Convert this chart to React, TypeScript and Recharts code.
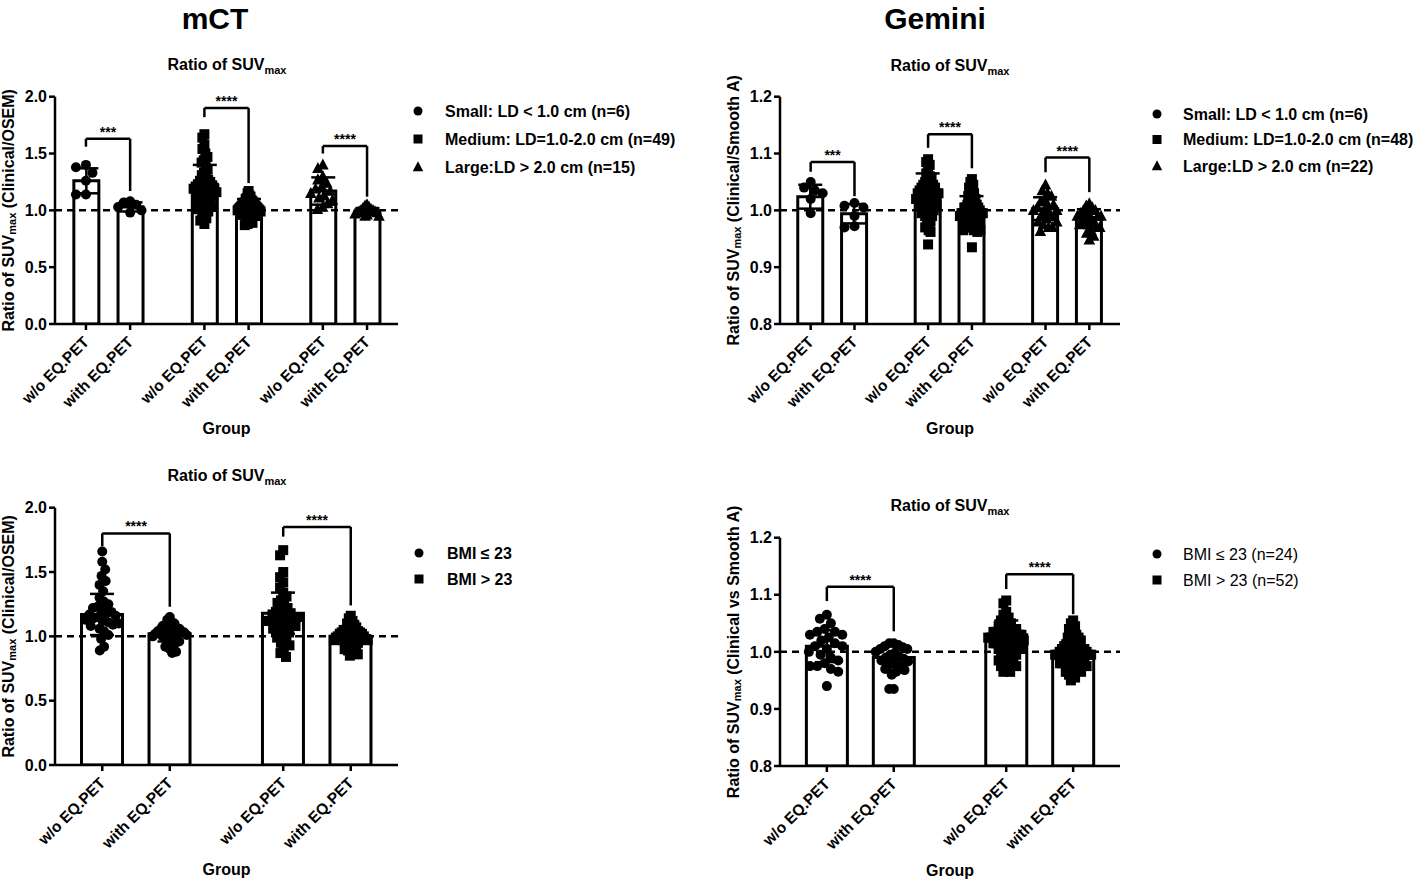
import React from 'react';
import { ComposedChart, Bar, Scatter, XAxis, YAxis, ReferenceLine, ErrorBar } from 'recharts';

const FONT = '"Liberation Sans", Arial, Helvetica, sans-serif';

// ---------------- shared text ----------------
const conditionLabels = ['w/o EQ.PET', 'with EQ.PET'];
const panelTitles = ['mCT', 'Gemini'];
const subtitleMain = 'Ratio of SUV';
const subtitleSub = 'max';
const xAxisTitle = 'Group';

// ---------------- mCT, lesion size (top left) ----------------
const mctSizeLegend = ['Small: LD < 1.0 cm (n=6)', 'Medium: LD=1.0-2.0 cm (n=49)', 'Large:LD > 2.0 cm (n=15)'];
const mctSizeMeans = [1.26, 1.03, 1.23, 1.03, 1.17, 0.99];
const mctSizeSD = [0.11, 0.04, 0.17, 0.07, 0.12, 0.03];
const mctSizeStars = ['***', '****', '****'];
const mctSizeBracketTop = [1.63, 1.9, 1.566];
const mctSizeBracketLeft = [1.56, 1.82, 1.5];
const mctSizeBracketRight = [1.17, 1.24, 1.12];
const mctSmallWo = [1.4, 1.38, 1.33, 1.26, 1.14, 1.14];
const mctSmallWith = [1.08, 1.07, 1.05, 1.03, 1.0, 0.98];
const mctMediumWo = [
  1.67, 1.64, 1.58, 1.54, 1.5, 1.47, 1.44, 1.42, 1.39, 1.36,
  1.33, 1.31, 1.29, 1.27, 1.26, 1.25, 1.24, 1.23, 1.22, 1.22,
  1.21, 1.2, 1.19, 1.19, 1.18, 1.17, 1.16, 1.16, 1.15, 1.14,
  1.13, 1.12, 1.11, 1.1, 1.09, 1.08, 1.07, 1.06, 1.05, 1.04,
  1.03, 1.02, 1.01, 0.99, 0.97, 0.95, 0.93, 0.91, 0.88,
];
const mctMediumWith = [
  1.17, 1.15, 1.13, 1.12, 1.11, 1.1, 1.09, 1.08, 1.08, 1.07,
  1.07, 1.06, 1.06, 1.05, 1.05, 1.04, 1.04, 1.04, 1.03, 1.03,
  1.03, 1.02, 1.02, 1.02, 1.01, 1.01, 1.01, 1.0, 1.0, 1.0,
  0.99, 0.99, 0.99, 0.98, 0.98, 0.97, 0.97, 0.96, 0.96, 0.95,
  0.95, 0.94, 0.93, 0.92, 0.91, 0.9, 0.89, 0.88, 0.87,
];
const mctLargeWo = [1.4, 1.37, 1.3, 1.27, 1.24, 1.21, 1.19, 1.17, 1.15, 1.13, 1.11, 1.09, 1.06, 1.03, 1.01];
const mctLargeWith = [1.05, 1.04, 1.03, 1.02, 1.01, 1.0, 1.0, 0.99, 0.99, 0.98, 0.98, 0.97, 0.96, 0.95, 0.95];

// ---------------- Gemini, lesion size (top right) ----------------
const gemSizeLegend = ['Small: LD < 1.0 cm (n=6)', 'Medium: LD=1.0-2.0 cm (n=48)', 'Large:LD > 2.0 cm (n=22)'];
const gemSizeMeans = [1.024, 0.994, 1.035, 1.0, 1.003, 0.987];
const gemSizeSD = [0.021, 0.017, 0.03, 0.025, 0.02, 0.015];
const gemSizeStars = ['***', '****', '****'];
const gemSizeBracketTop = [1.085, 1.134, 1.093];
const gemSizeBracketLeft = [1.068, 1.11, 1.067];
const gemSizeBracketRight = [1.025, 1.074, 1.032];
const gemSmallWo = [1.05, 1.04, 1.035, 1.03, 1.02, 0.995];
const gemSmallWith = [1.013, 1.008, 1.005, 0.99, 0.972, 0.97];
const gemMediumWo = [
  1.09, 1.085, 1.08, 1.07, 1.065, 1.06, 1.055, 1.05, 1.05, 1.045,
  1.045, 1.04, 1.04, 1.04, 1.035, 1.035, 1.035, 1.03, 1.03, 1.03,
  1.03, 1.025, 1.025, 1.025, 1.02, 1.02, 1.02, 1.02, 1.015, 1.015,
  1.01, 1.01, 1.01, 1.005, 1.005, 1.0, 1.0, 0.995, 0.995, 0.99,
  0.99, 0.985, 0.98, 0.975, 0.97, 0.965, 0.962, 0.94,
];
const gemMediumWith = [
  1.055, 1.05, 1.045, 1.04, 1.035, 1.03, 1.03, 1.025, 1.02, 1.02,
  1.015, 1.015, 1.01, 1.01, 1.01, 1.005, 1.005, 1.005, 1.0, 1.0,
  1.0, 1.0, 1.0, 0.995, 0.995, 0.995, 0.995, 0.99, 0.99, 0.99,
  0.99, 0.985, 0.985, 0.985, 0.98, 0.98, 0.98, 0.975, 0.975, 0.975,
  0.97, 0.97, 0.97, 0.965, 0.965, 0.965, 0.962, 0.935,
];
const gemLargeWo = [
  1.045, 1.035, 1.03, 1.025, 1.02, 1.015, 1.01, 1.01, 1.005, 1.0, 1.0,
  1.0, 0.995, 0.99, 0.99, 0.985, 0.98, 0.98, 0.975, 0.97, 0.97, 0.963,
];
const gemLargeWith = [
  1.012, 1.008, 1.005, 1.0, 1.0, 0.995, 0.995, 0.99, 0.99, 0.99, 0.985,
  0.985, 0.98, 0.98, 0.975, 0.975, 0.97, 0.97, 0.965, 0.96, 0.955, 0.948,
];

// ---------------- mCT, BMI (bottom left) ----------------
const mctBmiLegend = ['BMI \u2264 23', 'BMI > 23'];
const mctBmiMeans = [1.17, 1.02, 1.18, 1.0];
const mctBmiSD = [0.16, 0.06, 0.16, 0.06];
const mctBmiStars = ['****', '****'];
const mctBmiBracketTop = [1.8, 1.85];
const mctBmiBracketLeft = [1.7, 1.775];
const mctBmiBracketRight = [1.23, 1.24];
const mctBmiLowWo = [
  1.66, 1.58, 1.52, 1.47, 1.43, 1.4, 1.35, 1.3, 1.27, 1.25,
  1.23, 1.22, 1.2, 1.19, 1.18, 1.17, 1.16, 1.15, 1.14, 1.13,
  1.12, 1.11, 1.1, 1.09, 1.08, 1.06, 1.04, 1.01, 0.98, 0.92, 0.89,
];
const mctBmiLowWith = [
  1.15, 1.13, 1.11, 1.1, 1.09, 1.08, 1.07, 1.06, 1.06, 1.05,
  1.05, 1.04, 1.04, 1.03, 1.03, 1.02, 1.02, 1.01, 1.01, 1.0,
  1.0, 0.99, 0.98, 0.97, 0.96, 0.95, 0.94, 0.92, 0.9, 0.88, 0.87,
];
const mctBmiHighWo = [
  1.67, 1.63, 1.5, 1.46, 1.42, 1.38, 1.34, 1.31, 1.28, 1.26,
  1.24, 1.22, 1.2, 1.19, 1.18, 1.17, 1.16, 1.15, 1.15, 1.14,
  1.13, 1.12, 1.12, 1.11, 1.1, 1.09, 1.08, 1.07, 1.06, 1.05,
  1.03, 1.01, 0.99, 0.97, 0.95, 0.93, 0.9, 0.87, 0.84,
];
const mctBmiHighWith = [
  1.16, 1.14, 1.12, 1.1, 1.09, 1.08, 1.07, 1.06, 1.05, 1.05,
  1.04, 1.04, 1.03, 1.03, 1.02, 1.02, 1.01, 1.01, 1.0, 1.0,
  1.0, 0.99, 0.99, 0.98, 0.98, 0.97, 0.97, 0.96, 0.96, 0.95,
  0.94, 0.93, 0.92, 0.91, 0.9, 0.89, 0.88, 0.86, 0.85,
];

// ---------------- Gemini, BMI (bottom right) ----------------
const gemBmiLegend = ['BMI \u2264 23 (n=24)', 'BMI > 23 (n=52)'];
const gemBmiMeans = [1.01, 0.99, 1.03, 1.0];
const gemBmiSD = [0.028, 0.022, 0.025, 0.02];
const gemBmiStars = ['****', '****'];
const gemBmiBracketTop = [1.114, 1.136];
const gemBmiBracketLeft = [1.089, 1.11];
const gemBmiBracketRight = [1.036, 1.066];
const gemBmiLowWo = [
  1.065, 1.058, 1.05, 1.04, 1.035, 1.035, 1.03, 1.03, 1.025, 1.02, 1.015, 1.01,
  1.01, 1.005, 1.0, 0.995, 0.99, 0.985, 0.98, 0.975, 0.975, 0.97, 0.965, 0.94,
];
const gemBmiLowWith = [
  1.015, 1.015, 1.012, 1.01, 1.008, 1.005, 1.005, 1.0, 0.998, 0.995, 0.992, 0.99,
  0.988, 0.985, 0.983, 0.98, 0.978, 0.975, 0.97, 0.968, 0.965, 0.96, 0.935, 0.935,
];
const gemBmiHighWo = [
  1.09, 1.085, 1.07, 1.065, 1.06, 1.055, 1.05, 1.05, 1.045, 1.045,
  1.04, 1.04, 1.04, 1.035, 1.035, 1.035, 1.03, 1.03, 1.03, 1.03,
  1.025, 1.025, 1.025, 1.025, 1.02, 1.02, 1.02, 1.02, 1.015, 1.015,
  1.015, 1.01, 1.01, 1.01, 1.005, 1.005, 1.005, 1.0, 1.0, 0.995,
  0.995, 0.99, 0.99, 0.985, 0.985, 0.98, 0.98, 0.975, 0.975, 0.97, 0.965, 0.965,
];
const gemBmiHighWith = [
  1.055, 1.05, 1.045, 1.04, 1.035, 1.03, 1.03, 1.025, 1.025, 1.02,
  1.02, 1.015, 1.015, 1.01, 1.01, 1.01, 1.005, 1.005, 1.005, 1.005,
  1.0, 1.0, 1.0, 1.0, 1.0, 0.995, 0.995, 0.995, 0.995, 0.99,
  0.99, 0.99, 0.99, 0.985, 0.985, 0.985, 0.985, 0.98, 0.98, 0.98,
  0.975, 0.975, 0.975, 0.97, 0.97, 0.97, 0.965, 0.965, 0.96, 0.96, 0.955, 0.95,
];

const yTicksMct = [0, 0.5, 1.0, 1.5, 2.0];
const yTicksGem = [0.8, 0.9, 1.0, 1.1, 1.2];

// ---------------- layout helpers ----------------
type Shape = 'circle' | 'square' | 'triangle';

const GROUP_STEP = 2.68;
const X_MIN = -0.7;
const YAXIS_W = 55;
const XAXIS_H = 110;
const MARK = 10;

// deterministic beeswarm, then squeezed horizontally to fit `limit` px
function swarmOffsets(values: number[], pxPerUnit: number, minDist: number, limit: number): number[] {
  const order = values.map((_, i) => i).sort((a, b) => values[b] - values[a]);
  const placed: { x: number; y: number }[] = [];
  const out = new Array(values.length).fill(0);
  for (const i of order) {
    const y = values[i] * pxPerUnit;
    const firstSign = placed.length % 2 === 0 ? 1 : -1;
    let best = 0;
    for (let k = 0; k < 2000; k++) {
      const mag = Math.ceil(k / 2) * 0.5;
      const off = (k % 2 === 1 ? firstSign : -firstSign) * mag;
      let ok = true;
      for (const p of placed) {
        const dx = p.x - off;
        const dy = p.y - y;
        if (dx * dx + dy * dy < minDist * minDist) {
          ok = false;
          break;
        }
      }
      if (ok) {
        best = off;
        break;
      }
    }
    placed.push({ x: best, y });
    out[i] = best;
  }
  const maxAbs = Math.max(...out.map((o) => Math.abs(o)), 0.001);
  const f = maxAbs > limit ? limit / maxAbs : 1;
  return out.map((o) => o * f);
}

function Marker({ kind, cx, cy, s }: { kind: Shape; cx: number; cy: number; s: number }) {
  if (kind === 'circle') return <circle cx={cx} cy={cy} r={s / 2} fill="#000" />;
  if (kind === 'square') return <rect x={cx - s / 2} y={cy - s / 2} width={s} height={s} fill="#000" />;
  const h = s * 1.05;
  return (
    <polygon
      points={`${cx},${cy - h * 0.6} ${cx + s * 0.58},${cy + h * 0.45} ${cx - s * 0.58},${cy + h * 0.45}`}
      fill="#000"
    />
  );
}

function YLabelSvg(props: any) {
  const vb = props.viewBox || { x: 0, y: 0, width: 0, height: 0 };
  const cx = vb.x + 8;
  const cy = vb.y + vb.height / 2;
  return (
    <text
      x={cx}
      y={cy}
      transform={`rotate(-90 ${cx} ${cy})`}
      textAnchor="middle"
      dominantBaseline="central"
      fontFamily={FONT}
      fontSize={16}
      fontWeight={700}
      fill="#000"
    >
      <tspan>{subtitleMain}</tspan>
      <tspan fontSize={11} dy={4}>
        {subtitleSub}
      </tspan>
      <tspan dy={-4}>{props.tail}</tspan>
    </text>
  );
}

interface PanelSpec {
  left: number;
  top: number;
  width: number;
  height: number;
  plotTop: number;
  plotBottom: number;
  plotRight: number;
  yDomain: [number, number];
  yTicks: number[];
  groups: number;
  means: number[];
  sds: number[];
  series: number[][];
  shapes: Shape[];
  brTop: number[];
  brLeft: number[];
  brRight: number[];
  stars: string[];
  yTail: string;
  barSize: number;
  spread: number;
}

function Panel({ spec }: { spec: PanelSpec }) {
  const positions: number[] = [];
  for (let g = 0; g < spec.groups; g++) for (let c = 0; c < 2; c++) positions.push(g * GROUP_STEP + c);
  const xMax = positions[positions.length - 1] + 0.7;
  const barData = positions.map((x, i) => ({ x, mean: spec.means[i], err: [spec.sds[i], spec.sds[i]] }));
  const pxPerUnit = (spec.plotBottom - spec.plotTop) / (spec.yDomain[1] - spec.yDomain[0]);
  const scatterSets = spec.series.map((vals, i) => {
    const offs = swarmOffsets(vals, pxPerUnit, MARK, spec.spread);
    return vals.map((v, k) => ({ x: positions[i], y: v, dx: offs[k] }));
  });
  const margin = {
    top: spec.plotTop - spec.top,
    right: spec.left + spec.width - spec.plotRight,
    bottom: spec.top + spec.height - spec.plotBottom - XAXIS_H,
    left: 0,
  };
  const labelFor = (v: number) => {
    const i = positions.findIndex((p) => Math.abs(p - v) < 1e-6);
    return i >= 0 ? conditionLabels[i % 2] : '';
  };
  const XTick = (p: any) => {
    const ax = p.x + 4;
    const ay = p.y + 11;
    return (
      <text
        x={ax}
        y={ay}
        textAnchor="end"
        transform={`rotate(-45 ${ax} ${ay})`}
        fontFamily={FONT}
        fontSize={15.5}
        fontWeight={700}
        fill="#000"
      >
        {labelFor(p.payload.value)}
      </text>
    );
  };
  const axisStroke = { stroke: '#000', strokeWidth: 2.5 };
  return (
    <div style={{ position: 'absolute', left: spec.left, top: spec.top }}>
      <ComposedChart width={spec.width} height={spec.height} data={barData} margin={margin}>
        <XAxis
          type="number"
          dataKey="x"
          domain={[X_MIN, xMax]}
          allowDataOverflow
          ticks={positions}
          interval={0}
          height={XAXIS_H}
          tickSize={6}
          axisLine={axisStroke}
          tickLine={axisStroke}
          tick={<XTick />}
          label={{
            value: xAxisTitle,
            position: 'insideBottom',
            offset: 0,
            fill: '#000',
            fontSize: 16,
            fontWeight: 700,
            fontFamily: FONT,
          }}
        />
        <YAxis
          type="number"
          domain={spec.yDomain}
          allowDataOverflow
          ticks={spec.yTicks}
          interval={0}
          width={YAXIS_W}
          tickSize={6}
          tickMargin={2}
          axisLine={axisStroke}
          tickLine={axisStroke}
          tickFormatter={(v: number) => v.toFixed(1)}
          tick={{ fill: '#000', fontSize: 16, fontWeight: 700, fontFamily: FONT }}
          label={<YLabelSvg tail={spec.yTail} />}
        />
        <Bar
          dataKey="mean"
          barSize={spec.barSize}
          fill="#fff"
          stroke="#000"
          strokeWidth={3}
          isAnimationActive={false}
        >
          <ErrorBar dataKey="err" width={12} stroke="#000" strokeWidth={2.5} direction="y" />
        </Bar>
        <ReferenceLine y={1} stroke="#000" strokeWidth={2.5} strokeDasharray="7 5" />
        {scatterSets.map((pts, i) => (
          <Scatter
            key={`s${i}`}
            data={pts}
            dataKey="y"
            isAnimationActive={false}
            shape={(p: any) => (
              <Marker kind={spec.shapes[Math.floor(i / 2)]} cx={p.cx + (p.payload?.dx ?? 0)} cy={p.cy} s={MARK} />
            )}
          />
        ))}
        {spec.brTop.map((t, g) => {
          const xl = positions[g * 2];
          const xr = positions[g * 2 + 1];
          return (
            <React.Fragment key={`b${g}`}>
              <ReferenceLine
                segment={[
                  { x: xl, y: t },
                  { x: xr, y: t },
                ]}
                stroke="#000"
                strokeWidth={2.5}
                label={{
                  value: spec.stars[g],
                  position: 'top',
                  offset: 2,
                  fill: '#000',
                  fontSize: 14,
                  fontWeight: 700,
                  fontFamily: FONT,
                }}
              />
              <ReferenceLine
                segment={[
                  { x: xl, y: t },
                  { x: xl, y: spec.brLeft[g] },
                ]}
                stroke="#000"
                strokeWidth={2.5}
              />
              <ReferenceLine
                segment={[
                  { x: xr, y: t },
                  { x: xr, y: spec.brRight[g] },
                ]}
                stroke="#000"
                strokeWidth={2.5}
              />
            </React.Fragment>
          );
        })}
      </ComposedChart>
    </div>
  );
}

const sizeShapes: Shape[] = ['circle', 'square', 'triangle'];
const bmiShapes: Shape[] = ['circle', 'square'];

const panels: PanelSpec[] = [
  {
    left: 0, top: 0, width: 700, height: 440, plotTop: 96.7, plotBottom: 324, plotRight: 398,
    yDomain: [0, 2], yTicks: yTicksMct, groups: 3, means: mctSizeMeans, sds: mctSizeSD,
    series: [mctSmallWo, mctSmallWith, mctMediumWo, mctMediumWith, mctLargeWo, mctLargeWith],
    shapes: sizeShapes, brTop: mctSizeBracketTop, brLeft: mctSizeBracketLeft, brRight: mctSizeBracketRight,
    stars: mctSizeStars, yTail: ' (Clinical/OSEM)', barSize: 25, spread: 12,
  },
  {
    left: 725, top: 0, width: 691, height: 440, plotTop: 96.7, plotBottom: 324, plotRight: 1120,
    yDomain: [0.8, 1.2], yTicks: yTicksGem, groups: 3, means: gemSizeMeans, sds: gemSizeSD,
    series: [gemSmallWo, gemSmallWith, gemMediumWo, gemMediumWith, gemLargeWo, gemLargeWith],
    shapes: sizeShapes, brTop: gemSizeBracketTop, brLeft: gemSizeBracketLeft, brRight: gemSizeBracketRight,
    stars: gemSizeStars, yTail: ' (Clinical/Smooth A)', barSize: 25, spread: 12,
  },
  {
    left: 0, top: 440, width: 700, height: 440, plotTop: 507.7, plotBottom: 765, plotRight: 398,
    yDomain: [0, 2], yTicks: yTicksMct, groups: 2, means: mctBmiMeans, sds: mctBmiSD,
    series: [mctBmiLowWo, mctBmiLowWith, mctBmiHighWo, mctBmiHighWith],
    shapes: bmiShapes, brTop: mctBmiBracketTop, brLeft: mctBmiBracketLeft, brRight: mctBmiBracketRight,
    stars: mctBmiStars, yTail: ' (Clinical/OSEM)', barSize: 41, spread: 17,
  },
  {
    left: 725, top: 440, width: 691, height: 440, plotTop: 537.7, plotBottom: 766, plotRight: 1120,
    yDomain: [0.8, 1.2], yTicks: yTicksGem, groups: 2, means: gemBmiMeans, sds: gemBmiSD,
    series: [gemBmiLowWo, gemBmiLowWith, gemBmiHighWo, gemBmiHighWith],
    shapes: bmiShapes, brTop: gemBmiBracketTop, brLeft: gemBmiBracketLeft, brRight: gemBmiBracketRight,
    stars: gemBmiStars, yTail: ' (Clinical vs Smooth A)', barSize: 41, spread: 18,
  },
];

interface LegendSpec {
  items: string[];
  shapes: Shape[];
  bold: boolean;
  symX: number;
  textX: number;
  rows: number[];
}

const legends: LegendSpec[] = [
  { items: mctSizeLegend, shapes: sizeShapes, bold: true, symX: 418, textX: 445, rows: [111, 139, 167] },
  { items: gemSizeLegend, shapes: sizeShapes, bold: true, symX: 1157, textX: 1183, rows: [114, 139.5, 166] },
  { items: mctBmiLegend, shapes: bmiShapes, bold: true, symX: 419, textX: 447, rows: [553, 579] },
  { items: gemBmiLegend, shapes: bmiShapes, bold: false, symX: 1157, textX: 1183, rows: [554, 580] },
];

const subtitleCenters = [
  { x: 227, y: 64 },
  { x: 950, y: 65 },
  { x: 227, y: 475 },
  { x: 950, y: 505 },
];
const titleCenters = [
  { x: 215, y: 18 },
  { x: 935, y: 18 },
];

export default function App() {
  return (
    <div
      style={{
        position: 'absolute',
        left: 0,
        top: 0,
        width: 1416,
        height: 880,
        background: '#fff',
        fontFamily: FONT,
        overflow: 'hidden',
      }}
    >
      {panels.map((p, i) => (
        <Panel key={i} spec={p} />
      ))}
      <svg
        width={1416}
        height={880}
        style={{ position: 'absolute', left: 0, top: 0, pointerEvents: 'none' }}
        fontFamily={FONT}
      >
        {panelTitles.map((t, i) => (
          <text
            key={t}
            x={titleCenters[i].x}
            y={titleCenters[i].y + 10.7}
            textAnchor="middle"
            fontSize={30}
            fontWeight={700}
            fill="#000"
          >
            {t}
          </text>
        ))}
        {subtitleCenters.map((c, i) => (
          <text key={`st${i}`} x={c.x} y={c.y + 5.7} textAnchor="middle" fontSize={16} fontWeight={700} fill="#000">
            <tspan>{subtitleMain}</tspan>
            <tspan fontSize={11} dy={4}>
              {subtitleSub}
            </tspan>
          </text>
        ))}
        {legends.map((lg, li) => (
          <g key={`lg${li}`}>
            {lg.items.map((it, k) => (
              <g key={k}>
                <Marker kind={lg.shapes[k]} cx={lg.symX} cy={lg.rows[k]} s={9} />
                <text
                  x={lg.textX}
                  y={lg.rows[k] + 5.7}
                  fontSize={16}
                  fontWeight={lg.bold ? 700 : 400}
                  fill="#000"
                >
                  {it}
                </text>
              </g>
            ))}
          </g>
        ))}
      </svg>
    </div>
  );
}
